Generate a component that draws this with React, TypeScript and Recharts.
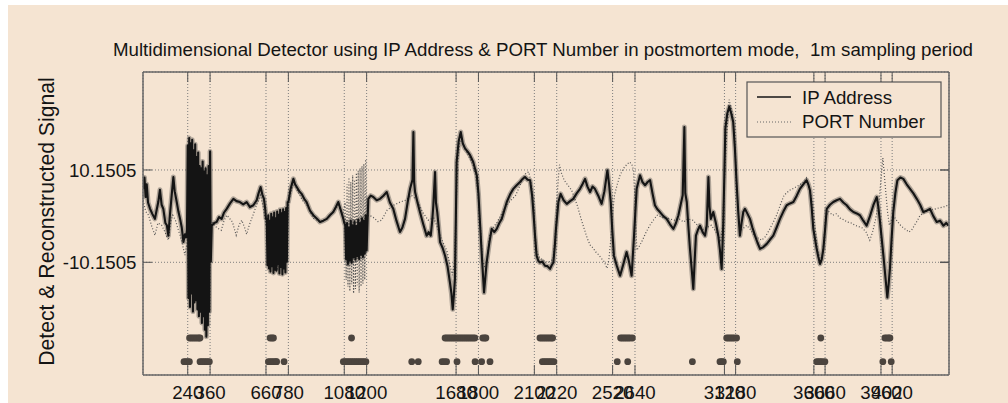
import React from 'react';
import { ComposedChart, Line, Scatter, XAxis, YAxis, CartesianGrid } from 'recharts';

const xTicks = [240, 360, 660, 780, 1080, 1200, 1680, 1800, 2100, 2220, 2520, 2640, 3120, 3180, 3600, 3660, 3960, 4020];
const yTicks = [-10.1505, 10.1505];
const xDomain: [number, number] = [0, 4325];
const yDomain: [number, number] = [-34.94, 31.7];

const titleText = 'Multidimensional Detector using IP Address & PORT Number in postmortem mode,  1m sampling period';
const yLabelText = 'Detect & Reconstructed Signal';
const seriesNames = ['IP Address', 'PORT Number'];

// IP Address signal: [minute, value]
const ipSignal: [number, number][] = [
  [0, 6.0], [8, 8.5], [14, 4.2], [20, 7.0], [27, 3.0], [38, 1.6], [50, 0.5], [64, -0.6], [74, 1.5], [82, 3.1],
  [91, 5.8], [100, 2.5], [109, 1.6], [120, -1.5], [128, -2.0], [136, -4.3], [145, 0.5], [154, 4.6], [163, 8.6],
  [170, 5.5], [181, 3.1], [190, 1.0], [199, -0.6], [208, -2.5], [217, -5.7], [225, -4.0], [231, -4.7], [236, -3.0],
  [240, 15.5], [244, -18], [248, 17.2], [252, -20], [256, 16], [260, -17], [264, 16.8], [268, -21], [272, 14.5],
  [276, -19], [280, 15.8], [284, -18.5], [288, 13], [292, -20.5], [296, 14], [300, -22], [304, 11], [308, -21],
  [312, 10.5], [316, -23.5], [320, 12], [324, -22], [328, 9.8], [332, -25], [336, 10.5], [340, -26.5], [344, 9],
  [348, -24], [352, 11], [356, -21], [360, 14.2], [364, -10],
  [369, -2.1], [382, -1.5], [395, -1.3], [408, -0.2], [422, -0.6], [435, 0.8], [449, 1.6], [467, 2.8], [485, 3.8],
  [502, 3.3], [520, 3.1], [538, 2.6], [556, 3.1], [574, 2.0], [592, 2.4], [610, 3.5], [620, 5.0], [631, 6.4],
  [640, 4.8], [649, 3.8], [656, 1.5], [660, -0.6],
  [664, -0.6], [668, -10.8], [672, 0.2], [676, -11.5], [680, -1.0], [684, -12.2], [688, 0.5], [692, -11.0],
  [696, -0.3], [700, -12.5], [704, 0.8], [708, -11.8], [712, -0.5], [716, -12.0], [720, 1.0], [724, -10.5],
  [728, 0.3], [732, -12.6], [736, 1.4], [740, -11.2], [744, 0.6], [748, -12.8], [752, 1.5], [756, -11.5],
  [760, 0.9], [764, -12.4], [768, 1.8], [772, -10.0], [776, 3.1],
  [780, 3.1], [792, 6.0], [807, 8.2], [816, 7.0], [825, 6.4], [838, 5.5], [851, 4.9], [865, 3.8], [878, 3.1],
  [896, 1.2], [914, 0.2], [932, -0.5], [950, -1.3], [968, -1.0], [986, -0.6], [1003, 0.2], [1021, 0.9],
  [1035, 2.0], [1048, 3.1], [1062, 1.2], [1075, -0.6], [1080, -1.5],
  [1085, -2], [1090, -9.5], [1095, -1.5], [1100, -10.5], [1105, -2.5], [1110, -9.8], [1115, -1.0], [1120, -10.2],
  [1125, -2.0], [1130, -9.0], [1135, -1.2], [1140, -9.6], [1145, -2.2], [1150, -8.8], [1155, -0.8], [1160, -9.4],
  [1165, -1.5], [1170, -8.5], [1175, -0.5], [1180, -9.0], [1185, -1.0], [1190, -8.2], [1195, 0.2], [1200, -7.5],
  [1209, 3.8], [1222, 4.5], [1236, 4.2], [1254, 3.5], [1272, 3.8], [1290, 4.5], [1308, 5.3], [1325, 3.0],
  [1343, 1.6], [1360, -1.0], [1379, -3.5], [1392, -2.5], [1406, -0.6], [1420, 3.0], [1433, 6.0], [1446, 8.0],
  [1451, 18.5], [1455, 7.5], [1460, 5.3], [1473, 3.0], [1486, 0.9], [1504, -1.8], [1522, -4.3], [1533, -3.5],
  [1544, -4.3], [1552, -1.0], [1558, 2.4], [1567, 9.7], [1572, 3.0], [1579, 0.9], [1587, -2.5], [1594, -5.7],
  [1608, -7.0], [1621, -8.7], [1634, -11.0], [1647, -14.6], [1655, -17.0], [1662, -20.5], [1668, -17.5],
  [1674, -13.8], [1679, 0.0], [1683, 11.9], [1694, 16.5], [1705, 18.5], [1716, 16.0], [1728, 14.9], [1742, 14.2],
  [1755, 13.4], [1772, 11.9], [1791, 9.0], [1800, 5.0], [1808, -1.3], [1820, -10.0], [1830, -16.8], [1837, -13.5],
  [1844, -10.2], [1858, -6.0], [1871, -2.8], [1885, -3.5], [1898, -2.8], [1912, -1.5], [1925, -0.6], [1938, 1.2],
  [1952, 3.1], [1970, 4.8], [1987, 6.0], [2005, 6.8], [2023, 7.5], [2037, 8.2], [2050, 8.6], [2064, 8.0],
  [2077, 7.9], [2088, 4.5], [2095, 0.9], [2104, -4.5], [2112, -8.7], [2121, -9.8], [2130, -10.2], [2143, -10.0],
  [2157, -10.9], [2170, -11.0], [2184, -11.6], [2193, -10.8], [2202, -10.2], [2210, -6.5], [2216, -2.8],
  [2229, 3.1], [2241, 4.9], [2257, 3.5], [2274, 2.7], [2292, 3.3], [2309, 3.8], [2327, 5.0], [2345, 6.0],
  [2358, 7.0], [2372, 8.2], [2385, 6.5], [2399, 5.3], [2412, 6.5], [2425, 6.0], [2443, 4.5], [2461, 2.7],
  [2476, 5.5], [2492, 10.1], [2501, 7.0], [2510, 3.1], [2518, -3.0], [2527, -8.7], [2543, -11.0], [2560, -13.1],
  [2578, -10.5], [2595, -7.9], [2608, -10.0], [2622, -13.1], [2628, -9.0], [2635, -4.3], [2642, 1.0], [2649, 6.0],
  [2667, 9.0], [2680, 7.5], [2694, 6.8], [2708, 7.5], [2721, 7.9], [2734, 5.0], [2747, 2.4], [2760, 1.5],
  [2774, 0.9], [2792, 0.0], [2810, -0.6], [2828, -1.8], [2846, -2.8], [2860, -1.5], [2873, 0.2], [2885, 2.5],
  [2896, 4.6], [2905, 19.6], [2910, 5.0], [2918, 3.1], [2926, -2.0], [2935, -7.2], [2944, -11.5], [2953, -16.0],
  [2960, -10.0], [2967, -4.3], [2978, -3.0], [2989, -2.1], [3003, -3.5], [3016, -4.3], [3025, -2.0], [3034, 8.6],
  [3040, 2.0], [3047, -0.6], [3060, 0.9], [3074, -1.5], [3087, -4.3], [3096, -7.5], [3105, -11.6], [3110, -6.0],
  [3114, -1.3], [3120, 10.0], [3125, 19.3], [3135, 22.5], [3146, 24.1], [3157, 22.5], [3167, 20.7], [3176, 15.0],
  [3185, 7.5], [3194, 1.0], [3203, -4.3], [3212, -1.5], [3221, 0.9], [3230, 1.6], [3244, 0.5], [3257, -0.6],
  [3270, -2.5], [3284, -4.3], [3297, -5.8], [3311, -7.2], [3329, -6.8], [3347, -6.1], [3364, -5.2], [3382, -4.3],
  [3400, -2.5], [3418, -0.6], [3436, 1.0], [3454, 2.4], [3472, 2.8], [3490, 3.1], [3508, 4.5], [3525, 6.0],
  [3543, 7.0], [3561, 7.9], [3570, 7.0], [3579, 5.7], [3588, 2.0], [3597, -2.8], [3606, -5.0], [3615, -7.2],
  [3624, -9.0], [3633, -10.5], [3642, -9.5], [3651, -7.2], [3660, -3.0], [3669, 1.6], [3686, 2.5], [3704, 3.1],
  [3722, 3.5], [3740, 3.8], [3758, 3.0], [3776, 2.4], [3794, 1.5], [3812, 0.9], [3830, 0.6], [3847, 0.2],
  [3865, -1.0], [3883, -2.1], [3901, 0.0], [3919, 2.4], [3937, 4.2], [3946, 2.0], [3955, -1.3], [3964, -5.0],
  [3973, -8.7], [3984, -13.5], [3994, -17.9], [4001, -15.0], [4008, -11.6], [4017, -5.0], [4026, 0.9], [4037, 5.0],
  [4048, 7.9], [4064, 8.5], [4080, 8.2], [4098, 7.0], [4116, 6.0], [4134, 5.0], [4152, 3.8], [4170, 2.5],
  [4187, 0.9], [4205, 1.2], [4223, 1.6], [4241, 0.0], [4259, -1.3], [4277, -1.0], [4295, -2.1], [4310, -1.5],
  [4322, -2.1],
];

// PORT Number signal: [minute, value]
const portSignal: [number, number][] = [
  [0, 3.5], [15, 1.0], [30, 0.2], [45, -2.0], [64, -4.2], [80, -1.5], [100, -2.0], [118, -3.5], [136, -5.3],
  [150, -1.0], [160, 0.2], [175, -1.0], [190, -3.1], [205, -5.0], [225, -8.6], [236, -6.0],
  [242, 12], [250, -15], [258, 14], [266, -18], [274, 12], [282, -16], [290, 10], [298, -19], [306, 9],
  [314, -20], [322, 8], [330, -22], [338, 7], [346, -20], [354, 9], [362, -5],
  [370, -1.3], [395, -2.5], [420, -3.1], [435, -1.0], [450, 0.2], [465, -0.5], [480, -1.3], [500, -4.2],
  [515, -2.0], [530, -0.9], [545, -2.5], [556, -4.0], [570, -2.0], [590, 0.2], [610, 2.5], [630, 4.6],
  [645, 2.0], [660, -2.0],
  [666, -2], [674, -9], [682, -1], [690, -11], [698, 0], [706, -10], [714, -1], [722, -12], [730, 0.5],
  [738, -10], [746, 1], [754, -11], [762, 0], [770, -9], [778, 2],
  [790, 4.6], [810, 7.5], [830, 5.5], [855, 3.5], [880, 2.4], [915, -0.5], [950, -1.3], [990, -0.5],
  [1020, 1.0], [1050, 2.4], [1070, 0.0],
  [1085, 3], [1090, -14], [1095, 7], [1100, -15.5], [1105, 8.5], [1110, -16.5], [1115, 7.5], [1120, -15],
  [1125, 9], [1130, -17], [1135, 8], [1140, -16], [1145, 9.5], [1150, -15.2], [1155, 10], [1160, -16.8],
  [1165, 10.5], [1170, -15.5], [1175, 11], [1180, -14.8], [1185, 11.5], [1190, -14], [1195, 12.5], [1200, -8],
  [1205, 0],
  [1215, 0.2], [1240, -0.4], [1260, -1.2], [1280, -0.9], [1310, 1.3], [1345, 2.4], [1380, 3.1], [1410, 3.5],
  [1440, 4.6], [1470, 3.5], [1500, 0.9], [1530, -0.9], [1560, -0.4], [1580, -2.5], [1600, -4.9], [1630, -7.5],
  [1660, -13.0], [1672, -10.0], [1680, 2.0], [1690, 12.0], [1700, 16.8], [1715, 16.0], [1730, 14.6],
  [1750, 13.0], [1770, 11.3], [1785, 9.0], [1800, 3.5], [1812, -3.0], [1822, -9.7], [1840, -11.9], [1850, -8.0],
  [1860, -4.2], [1880, -2.5], [1900, -1.3], [1925, 0.5], [1950, 2.4], [1975, 3.5], [2000, 4.6], [2020, 6.5],
  [2040, 8.4], [2055, 9.5], [2070, 9.7], [2085, 7.0], [2095, 3.5], [2110, -7.5], [2125, -9.0], [2150, -9.8],
  [2175, -10.2], [2200, -9.5], [2212, -4.0], [2220, 3.0], [2230, 9.0], [2235, 11.3], [2245, 9.5], [2260, 7.9],
  [2280, 6.8], [2300, 5.7], [2315, 4.0], [2330, 2.4], [2350, -0.5], [2370, -3.1], [2385, -5.0], [2400, -6.4],
  [2415, -7.0], [2430, -7.9], [2445, -8.5], [2460, -9.3], [2475, -10.0], [2490, -11.5], [2500, -9.5],
  [2510, -5.3], [2520, 0.5], [2530, 4.6], [2545, 7.0], [2560, 9.0], [2578, 10.5], [2595, 11.3], [2610, 11.9],
  [2622, 11.5], [2632, 10.2], [2640, 3.0], [2650, -7.5], [2665, -6.5], [2680, -5.3], [2700, -3.5], [2720, -2.0],
  [2740, -0.8], [2760, 0.2], [2785, -0.3], [2810, -0.4], [2850, -0.9], [2875, -0.5], [2900, -1.3], [2925, -0.6],
  [2950, -0.9], [2975, -2.0], [3000, -3.1], [3025, -2.5], [3050, -2.0], [3075, -3.5], [3100, -5.3], [3110, -2.0],
  [3120, 7.9], [3132, 18.0], [3145, 25.6], [3158, 23.5], [3170, 20.1], [3180, 12.0], [3190, 3.5], [3200, -2.0],
  [3210, -3.1], [3240, -2.0], [3260, -3.0], [3280, -4.2], [3300, -4.8], [3320, -5.3], [3340, -4.5], [3360, -3.1],
  [3380, -1.5], [3400, 0.2], [3420, 2.5], [3440, 4.6], [3470, 5.7], [3495, 6.2], [3520, 6.8], [3545, 7.5],
  [3560, 8.4], [3575, 6.0], [3590, 3.5], [3605, -2.0], [3620, -7.5], [3640, -10.2], [3652, -6.0], [3665, 0.2],
  [3680, 1.0], [3700, 0.2], [3720, 0.5], [3740, -0.4], [3760, -0.8], [3780, -1.3], [3800, -1.5], [3820, -2.0],
  [3840, -2.3], [3860, -2.6], [3880, -3.5], [3900, -5.3], [3915, -3.5], [3930, -0.9], [3950, 3.5], [3962, 9.0],
  [3970, 12.8], [3978, 9.0], [3985, 5.7], [3995, 1.0], [4005, -2.0], [4015, -1.0], [4025, 0.2], [4050, -1.3],
  [4065, -2.0], [4080, -2.6], [4095, -3.0], [4110, -3.5], [4125, -3.0], [4140, -2.0], [4155, -1.0], [4170, 0.2],
  [4195, 0.8], [4220, 1.3], [4245, 1.5], [4270, 1.8], [4295, 2.0], [4320, 2.4],
];

// detection marks (minutes)
const upperDetections = [
  250, 260, 270, 280, 290, 300, 306, 682, 692, 700, 1119,
  1621, 1631, 1641, 1651, 1661, 1671, 1681, 1691, 1701, 1711, 1721, 1731, 1741, 1751, 1761, 1771, 1781,
  1823, 1833, 1840, 2130, 2140, 2150, 2160, 2170, 2180, 2190, 2198,
  2563, 2573, 2583, 2593, 2603, 2613, 2626, 3132, 3142, 3152, 3162, 3172, 3185, 3637, 3981, 3991, 4001, 4008,
];
const lowerDetections = [
  220, 230, 240, 249, 306, 316, 326, 336, 346, 356, 673, 683, 693, 703, 713, 717, 757,
  1075, 1085, 1095, 1105, 1115, 1125, 1135, 1145, 1155, 1165, 1175, 1185, 1196,
  1442, 1477, 1605, 1617, 1629, 1685, 1782, 1817, 1862,
  2143, 2153, 2163, 2173, 2183, 2193, 2205, 2545, 2601, 2948, 3096, 3105, 3114, 3189,
  3615, 3625, 3635, 3645, 3659, 3970, 4015,
];
const upperRowLevel = -26.8;
const lowerRowLevel = -32.0;

const BG = '#F5E4D2';
const FONT = '"Liberation Sans", Arial, Helvetica, sans-serif';
const TEXT = '#141414';
const AXIS = '#666';

const ipData = ipSignal.map(([t, v]) => ({ t, v }));
const portData = portSignal.map(([t, v]) => ({ t, v }));
const upperData = upperDetections.map((t) => ({ t, v: upperRowLevel }));
const lowerData = lowerDetections.map((t) => ({ t, v: lowerRowLevel }));

const BottomTick = (props: any) => {
  const { x, y, payload } = props;
  return (
    <g>
      <line x1={x} x2={x} y1={y} y2={y - 10} stroke="#555" strokeWidth={1} />
      <text x={x} y={y + 23.5} textAnchor="middle" fontSize={18.7} fill={TEXT} fontFamily={FONT}>
        {payload.value}
      </text>
    </g>
  );
};
const TopTick = (props: any) => {
  const { x, y } = props;
  return <line x1={x} x2={x} y1={y} y2={y + 10} stroke="#555" strokeWidth={1} />;
};
const LeftTick = (props: any) => {
  const { x, y, payload } = props;
  return (
    <g>
      <line x1={x} x2={x + 9} y1={y} y2={y} stroke="#555" strokeWidth={1} />
      <text x={x - 6.5} y={y + 6.7} textAnchor="end" fontSize={18.7} fill={TEXT} fontFamily={FONT}>
        {payload.value}
      </text>
    </g>
  );
};
const RightTick = (props: any) => {
  const { x, y } = props;
  return <line x1={x - 9} x2={x} y1={y} y2={y} stroke="#555" strokeWidth={1.5} />;
};

const Dot = (p: any) => <circle cx={p.cx} cy={p.cy} r={3.4} fill="#4b443e" />;

export default function App() {
  return (
    <div style={{ position: 'absolute', left: 8, top: 5, width: 1000, height: 398, background: BG, fontFamily: FONT }}>
      <ComposedChart width={1000} height={398} margin={{ top: 66, right: 58, bottom: 0, left: 0 }}>
        <CartesianGrid stroke="#7d7d7d" strokeDasharray="1 2" strokeWidth={1} />
        <XAxis
          dataKey="t" type="number" domain={xDomain} ticks={xTicks} interval={0} allowDataOverflow
          height={28} tickSize={0} tickMargin={0} tickLine={false} tick={BottomTick}
          axisLine={{ stroke: AXIS, strokeWidth: 1.5 }}
        />
        <XAxis
          xAxisId="top" orientation="top" dataKey="t" type="number" domain={xDomain} ticks={xTicks} interval={0}
          allowDataOverflow height={1} tickSize={0} tickMargin={0} tickLine={false} tick={TopTick}
          axisLine={{ stroke: AXIS, strokeWidth: 1.5 }}
        />
        <YAxis
          type="number" domain={yDomain} ticks={yTicks} interval={0} allowDataOverflow width={135}
          tickSize={0} tickMargin={0} tickLine={false} tick={LeftTick} axisLine={{ stroke: AXIS, strokeWidth: 1.5 }}
        />
        <YAxis
          yAxisId="right" orientation="right" type="number" domain={yDomain} ticks={yTicks} interval={0}
          allowDataOverflow width={1} tickSize={0} tickMargin={0} tickLine={false} tick={RightTick}
          axisLine={{ stroke: AXIS, strokeWidth: 1.5 }}
        />
        <Line
          data={portData} dataKey="v" name={seriesNames[1]} type="linear" stroke="#555" strokeWidth={1.2}
          strokeDasharray="1 2" dot={false} activeDot={false} isAnimationActive={false}
        />
        <Line
          data={ipData} dataKey="v" name={seriesNames[0] + ' band'} type="linear" stroke="#2a2a2a" strokeOpacity={0.35}
          strokeWidth={5} strokeLinejoin="round" dot={false} activeDot={false} legendType="none" isAnimationActive={false}
        />
        <Line
          data={ipData} dataKey="v" name={seriesNames[0]} type="linear" stroke="#141414" strokeWidth={2.1}
          strokeLinejoin="round" dot={false} activeDot={false} isAnimationActive={false}
        />
        <Scatter data={upperData} dataKey="v" xAxisId="top" yAxisId="right" shape={Dot} isAnimationActive={false} />
        <Scatter data={lowerData} dataKey="v" xAxisId="top" yAxisId="right" shape={Dot} isAnimationActive={false} />
      </ComposedChart>
      <svg width={1000} height={398} style={{ position: 'absolute', left: 0, top: 0, pointerEvents: 'none' }}>
        <text x={105} y={51} fontSize={18.7} fill={TEXT} fontFamily={FONT} style={{ whiteSpace: 'pre' }}>
          {titleText}
        </text>
        <text
          transform="translate(45.8,216.5) rotate(-90)" textAnchor="middle" fontSize={21.2} fill={TEXT} fontFamily={FONT}
        >
          {yLabelText}
        </text>
        <rect x={739} y={77} width={194} height={55} fill={BG} stroke="#555" strokeWidth={1.2} />
        <line x1={749} x2={783} y1={92} y2={92} stroke="#141414" strokeWidth={1.3} />
        <text x={794} y={99} fontSize={18.7} fill={TEXT} fontFamily={FONT}>{seriesNames[0]}</text>
        <line x1={749} x2={783} y1={117} y2={117} stroke="#666" strokeWidth={1.1} strokeDasharray="1 2" />
        <text x={794} y={123} fontSize={18.7} fill={TEXT} fontFamily={FONT}>{seriesNames[1]}</text>
      </svg>
    </div>
  );
}
